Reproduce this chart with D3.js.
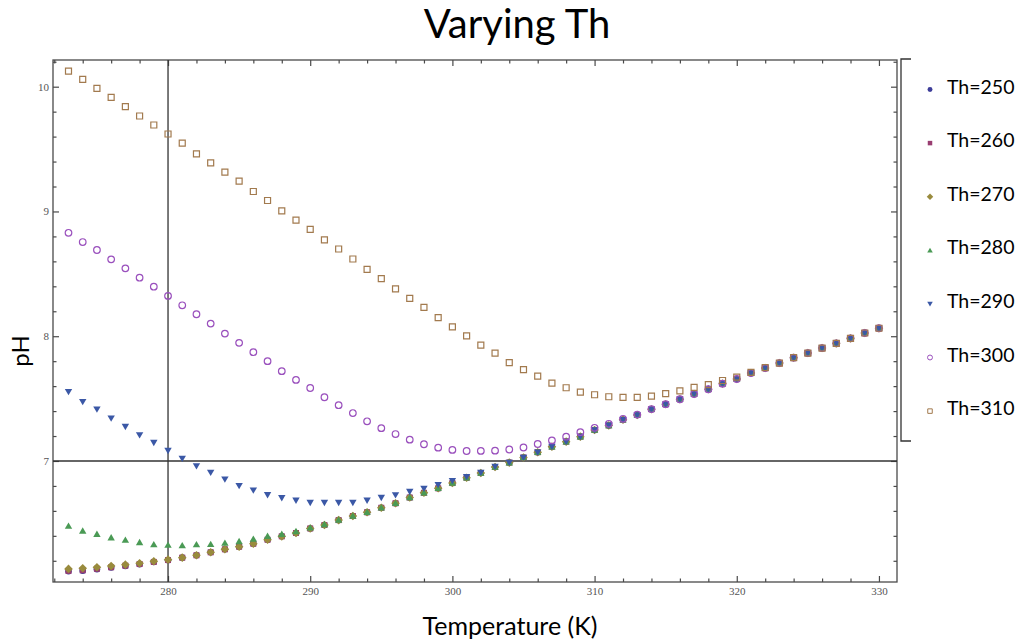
<!DOCTYPE html>
<html>
<head>
<meta charset="utf-8">
<script src="https://cdn.jsdelivr.net/npm/d3@7"></script>
<style>
  html, body { margin: 0; padding: 0; background: #fff; }
  svg { display: block; }
</style>
</head>
<body>
<svg id="chart" width="1029" height="643"></svg>
<script>
// Temperatures (K) at which pH was computed
const temps = [273, 274, 275, 276, 277, 278, 279, 280, 281, 282,
  283, 284, 285, 286, 287, 288, 289, 290, 291, 292,
  293, 294, 295, 296, 297, 298, 299, 300, 301, 302,
  303, 304, 305, 306, 307, 308, 309, 310, 311, 312,
  313, 314, 315, 316, 317, 318, 319, 320, 321, 322,
  323, 324, 325, 326, 327, 328, 329, 330];

// pH for each Th value
const ph250 = [6.116, 6.121, 6.133, 6.146, 6.159, 6.173, 6.190, 6.205, 6.225, 6.244,
  6.268, 6.292, 6.313, 6.337, 6.369, 6.396, 6.423, 6.459, 6.487, 6.526,
  6.559, 6.589, 6.625, 6.661, 6.707, 6.745, 6.781, 6.823, 6.866, 6.904,
  6.952, 6.987, 7.028, 7.070, 7.115, 7.155, 7.195, 7.248, 7.285, 7.331,
  7.369, 7.415, 7.455, 7.495, 7.537, 7.575, 7.620, 7.657, 7.705, 7.745,
  7.785, 7.828, 7.865, 7.905, 7.943, 7.983, 8.026, 8.064];
const ph260 = [6.119, 6.124, 6.136, 6.148, 6.161, 6.174, 6.191, 6.206, 6.225, 6.244,
  6.268, 6.292, 6.313, 6.337, 6.369, 6.396, 6.423, 6.459, 6.487, 6.526,
  6.559, 6.589, 6.625, 6.661, 6.707, 6.745, 6.781, 6.823, 6.866, 6.904,
  6.952, 6.987, 7.028, 7.070, 7.115, 7.155, 7.195, 7.248, 7.285, 7.331,
  7.369, 7.415, 7.455, 7.495, 7.537, 7.575, 7.620, 7.657, 7.705, 7.745,
  7.785, 7.828, 7.865, 7.905, 7.943, 7.983, 8.026, 8.064];
const ph270 = [6.135, 6.140, 6.148, 6.158, 6.169, 6.180, 6.196, 6.209, 6.225, 6.244,
  6.268, 6.292, 6.313, 6.337, 6.369, 6.396, 6.423, 6.459, 6.487, 6.526,
  6.559, 6.589, 6.625, 6.661, 6.707, 6.745, 6.781, 6.823, 6.866, 6.904,
  6.952, 6.987, 7.028, 7.070, 7.115, 7.155, 7.195, 7.248, 7.285, 7.331,
  7.369, 7.415, 7.455, 7.495, 7.537, 7.575, 7.620, 7.657, 7.705, 7.745,
  7.785, 7.828, 7.865, 7.905, 7.943, 7.983, 8.026, 8.064];
const ph280 = [6.479, 6.440, 6.414, 6.386, 6.367, 6.348, 6.330, 6.326, 6.322, 6.330,
  6.333, 6.342, 6.356, 6.375, 6.398, 6.414, 6.436, 6.465, 6.492, 6.527,
  6.560, 6.589, 6.625, 6.661, 6.707, 6.745, 6.781, 6.823, 6.866, 6.904,
  6.952, 6.987, 7.028, 7.070, 7.115, 7.155, 7.195, 7.248, 7.285, 7.331,
  7.369, 7.415, 7.455, 7.495, 7.537, 7.575, 7.620, 7.657, 7.705, 7.745,
  7.785, 7.828, 7.865, 7.905, 7.943, 7.983, 8.026, 8.064];
const ph290 = [7.555, 7.475, 7.414, 7.342, 7.275, 7.208, 7.147, 7.083, 7.019, 6.960,
  6.907, 6.853, 6.802, 6.765, 6.728, 6.704, 6.684, 6.666, 6.666, 6.666,
  6.666, 6.684, 6.706, 6.727, 6.754, 6.780, 6.810, 6.841, 6.874, 6.907,
  6.955, 6.988, 7.028, 7.070, 7.115, 7.155, 7.195, 7.248, 7.285, 7.331,
  7.369, 7.415, 7.455, 7.495, 7.537, 7.575, 7.620, 7.657, 7.705, 7.745,
  7.785, 7.828, 7.865, 7.905, 7.943, 7.983, 8.026, 8.064];
const ph300 = [8.829, 8.755, 8.691, 8.616, 8.544, 8.469, 8.397, 8.323, 8.248, 8.176,
  8.101, 8.021, 7.947, 7.872, 7.800, 7.720, 7.650, 7.585, 7.511, 7.447,
  7.384, 7.318, 7.263, 7.216, 7.171, 7.134, 7.107, 7.089, 7.080, 7.081,
  7.083, 7.092, 7.108, 7.136, 7.165, 7.195, 7.231, 7.266, 7.298, 7.338,
  7.372, 7.416, 7.455, 7.495, 7.537, 7.575, 7.620, 7.657, 7.705, 7.745,
  7.785, 7.828, 7.865, 7.905, 7.943, 7.983, 8.026, 8.064];
const ph310 = [10.125, 10.059, 9.987, 9.915, 9.840, 9.765, 9.693, 9.621, 9.547, 9.461,
  9.389, 9.315, 9.243, 9.160, 9.088, 9.005, 8.931, 8.856, 8.773, 8.699,
  8.619, 8.536, 8.461, 8.379, 8.304, 8.232, 8.149, 8.075, 8.003, 7.928,
  7.864, 7.789, 7.733, 7.680, 7.624, 7.587, 7.552, 7.531, 7.515, 7.510,
  7.510, 7.520, 7.540, 7.562, 7.590, 7.612, 7.645, 7.672, 7.710, 7.748,
  7.785, 7.828, 7.865, 7.905, 7.943, 7.983, 8.026, 8.064];

const seriesLabels = ["Th=250", "Th=260", "Th=270", "Th=280", "Th=290", "Th=300", "Th=310"];
const seriesValues = [ph250, ph260, ph270, ph280, ph290, ph300, ph310];

const xMajorTicks = [280, 290, 300, 310, 320, 330];
const xMinorTicks = [272, 274, 276, 278, 282, 284, 286, 288, 292, 294, 296, 298,
  302, 304, 306, 308, 312, 314, 316, 318, 322, 324, 326, 328];
const yMajorTicks = [7, 8, 9, 10];
const yMinorTicks = [6.2, 6.4, 6.6, 6.8, 7.2, 7.4, 7.6, 7.8, 8.2, 8.4, 8.6, 8.8,
  9.2, 9.4, 9.6, 9.8, 10.2];

// Marker styles, one per series
const styles = [
  { shape: "circle",   fill: true,  color: "#3d3d99" },
  { shape: "square",   fill: true,  color: "#993d71" },
  { shape: "diamond",  fill: true,  color: "#998b3d" },
  { shape: "triangle", fill: true,  color: "#4a9a55" },
  { shape: "invtri",   fill: true,  color: "#3b58a6" },
  { shape: "circle",   fill: false, color: "#9a50bd" },
  { shape: "square",   fill: false, color: "#a27a4e" }
];

function markerPath(shape, s) {
  const p = d3.path();
  if (shape === "circle") {
    p.arc(0, 0, 3.3 * s, 0, 2 * Math.PI);
  } else if (shape === "square") {
    const h = 3.0 * s;
    p.rect(-h, -h, 2 * h, 2 * h);
  } else if (shape === "diamond") {
    const h = 4.3 * s;
    p.moveTo(0, -h); p.lineTo(h, 0); p.lineTo(0, h); p.lineTo(-h, 0); p.closePath();
  } else if (shape === "triangle") {
    const w = 3.7 * s, h = 3.5 * s;
    p.moveTo(0, -h); p.lineTo(w, h * 0.8); p.lineTo(-w, h * 0.8); p.closePath();
  } else if (shape === "invtri") {
    const w = 3.7 * s, h = 3.5 * s;
    p.moveTo(0, h); p.lineTo(w, -h * 0.8); p.lineTo(-w, -h * 0.8); p.closePath();
  }
  return p.toString();
}

const svg = d3.select("#chart");
const plotL = 53, plotR = 897, plotT = 60, plotB = 582;

const x = d3.scaleLinear().domain([271.91, 331.27]).range([plotL, plotR]);
const y = d3.scaleLinear().domain([6.03, 10.214]).range([plotB, plotT]);

const axisColor = "#4a4a4a";
const tickFont = "'Liberation Serif', 'DejaVu Serif', serif";

// Frame ticks: major and minor, pointing inward on all four sides
function styleAxis(g) {
  g.select(".domain").remove();
  g.selectAll(".tick line").attr("stroke", axisColor).attr("stroke-width", 1.2);
  g.selectAll(".tick text").attr("fill", "#555").attr("font-family", tickFont).attr("font-size", 11);
}

svg.append("g").attr("transform", `translate(0,${plotB})`)
  .call(d3.axisBottom(x).tickValues(xMajorTicks).tickSizeInner(-6).tickSizeOuter(0).tickPadding(5).tickFormat(d3.format("d")))
  .call(styleAxis);
svg.append("g").attr("transform", `translate(0,${plotB})`)
  .call(d3.axisBottom(x).tickValues(xMinorTicks).tickSizeInner(-3.5).tickSizeOuter(0).tickFormat(""))
  .call(styleAxis);
svg.append("g").attr("transform", `translate(0,${plotT})`)
  .call(d3.axisTop(x).tickValues(xMajorTicks).tickSizeInner(-6).tickSizeOuter(0).tickFormat(""))
  .call(styleAxis);
svg.append("g").attr("transform", `translate(0,${plotT})`)
  .call(d3.axisTop(x).tickValues(xMinorTicks).tickSizeInner(-3.5).tickSizeOuter(0).tickFormat(""))
  .call(styleAxis);
svg.append("g").attr("transform", `translate(${plotL},0)`)
  .call(d3.axisLeft(y).tickValues(yMajorTicks).tickSizeInner(-6).tickSizeOuter(0).tickPadding(4).tickFormat(d3.format("d")))
  .call(styleAxis);
svg.append("g").attr("transform", `translate(${plotL},0)`)
  .call(d3.axisLeft(y).tickValues(yMinorTicks).tickSizeInner(-3.5).tickSizeOuter(0).tickFormat(""))
  .call(styleAxis);
svg.append("g").attr("transform", `translate(${plotR},0)`)
  .call(d3.axisRight(y).tickValues(yMajorTicks).tickSizeInner(-6).tickSizeOuter(0).tickFormat(""))
  .call(styleAxis);
svg.append("g").attr("transform", `translate(${plotR},0)`)
  .call(d3.axisRight(y).tickValues(yMinorTicks).tickSizeInner(-3.5).tickSizeOuter(0).tickFormat(""))
  .call(styleAxis);

// Frame
svg.append("rect")
  .attr("x", plotL).attr("y", plotT)
  .attr("width", plotR - plotL).attr("height", plotB - plotT)
  .attr("fill", "none").attr("stroke", axisColor).attr("stroke-width", 1.3);

// Reference lines at T = 280 K and pH = 7
svg.append("line")
  .attr("x1", x(280)).attr("x2", x(280)).attr("y1", plotT).attr("y2", plotB)
  .attr("stroke", "#333").attr("stroke-width", 1.3);
svg.append("line")
  .attr("x1", plotL).attr("x2", plotR).attr("y1", y(7)).attr("y2", y(7))
  .attr("stroke", "#333").attr("stroke-width", 1.3);

// Data points
seriesValues.forEach((vals, i) => {
  const st = styles[i];
  svg.append("g")
    .selectAll("path")
    .data(temps.map((t, k) => [t, vals[k]]))
    .join("path")
    .attr("transform", d => `translate(${x(d[0])},${y(d[1])})`)
    .attr("d", markerPath(st.shape, 1))
    .attr("fill", st.fill ? st.color : "none")
    .attr("stroke", st.fill ? "none" : st.color)
    .attr("stroke-width", st.fill ? 0 : 1.2);
});

// Title and axis labels
const labelFont = "Lato, 'Open Sans', sans-serif";
svg.append("text")
  .attr("x", 517).attr("y", 38)
  .attr("text-anchor", "middle")
  .attr("font-family", labelFont).attr("font-size", 40)
  .attr("fill", "#000")
  .text("Varying Th");
svg.append("text")
  .attr("x", 510).attr("y", 635)
  .attr("text-anchor", "middle")
  .attr("font-family", labelFont).attr("font-size", 25)
  .attr("fill", "#000")
  .text("Temperature (K)");
svg.append("text")
  .attr("transform", "translate(29,351) rotate(-90)")
  .attr("text-anchor", "middle")
  .attr("font-family", labelFont).attr("font-size", 24)
  .attr("fill", "#000")
  .text("pH");

// Legend with bracket
const legendTop = 59, legendBottom = 441, bracketX = 901;
svg.append("path")
  .attr("d", `M${bracketX + 10},${legendTop} H${bracketX} V${legendBottom} H${bracketX + 10}`)
  .attr("fill", "none").attr("stroke", "#333").attr("stroke-width", 1.3);

const legend = svg.append("g");
seriesLabels.forEach((lab, i) => {
  const st = styles[i];
  const cy = 89.5 + i * 53.6;
  legend.append("path")
    .attr("transform", `translate(930,${cy})`)
    .attr("d", markerPath(st.shape, 0.75))
    .attr("fill", st.fill ? st.color : "none")
    .attr("stroke", st.fill ? "none" : st.color)
    .attr("stroke-width", st.fill ? 0 : 1);
  legend.append("text")
    .attr("x", 947).attr("y", cy + 4)
    .attr("font-family", labelFont).attr("font-size", 19.5)
    .attr("fill", "#000")
    .text(lab);
});
</script>
</body>
</html>
